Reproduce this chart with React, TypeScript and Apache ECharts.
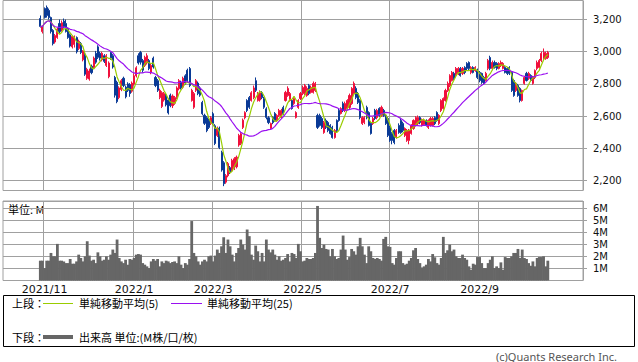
import React, { useEffect, useRef } from "react";
import * as echarts from "echarts";

// ---- calendar (trading days shown on the axis) ----
const HOLIDAYS = [
  "2021-11-03", "2021-11-23", "2021-12-31", "2022-01-03", "2022-01-10",
  "2022-02-11", "2022-02-23", "2022-03-21", "2022-04-29", "2022-05-03",
  "2022-05-04", "2022-05-05", "2022-07-18", "2022-08-11", "2022-09-19",
  "2022-09-23", "2022-10-10", "2022-11-03",
];
const AXIS_START: [number, number, number] = [2021, 10, 5];
const AXIS_END: [number, number, number] = [2022, 11, 14];
const FIRST_BAR = "2021/10/28";
const LABEL_MONTHS = [1, 3, 5, 7, 9, 11];

// ---- daily prices (yen) ----
const opens = [
  3206, 3125, 3268, 3275, 3256, 3212, 3132, 3060, 3088, 3175,
  3135, 3190, 3175, 3140, 3105, 3030, 3045, 3088, 3020, 3050,
  2950, 2985, 2835, 2830, 2910, 2900, 2990, 3030, 2990, 2950,
  2975, 2915, 2845, 2995, 2975, 2840, 2810, 2715, 2765, 2835,
  2780, 2800, 2795, 2755, 2800, 2850, 2975, 2995, 2945, 2915,
  2930, 2945, 2870, 2960, 2840, 2820, 2715, 2660, 2700, 2730,
  2700, 2730, 2665, 2680, 2715, 2770, 2810, 2780, 2850, 2885,
  2895, 2697, 2655, 2760, 2805, 2775, 2685, 2605, 2590, 2575,
  2555, 2615, 2540, 2480, 2525, 2375, 2310, 2190, 2230, 2280,
  2262, 2275, 2285, 2420, 2430, 2530, 2590, 2697, 2715, 2697,
  2715, 2820, 2697, 2700, 2745, 2710, 2645, 2590, 2523, 2592,
  2616, 2573, 2604, 2592, 2654, 2697, 2728, 2697, 2697, 2678,
  2592, 2654, 2709, 2740, 2740, 2728, 2790, 2747, 2747, 2759,
  2604, 2604, 2585, 2498, 2573, 2560, 2542, 2530, 2467, 2573,
  2635, 2616, 2678, 2635, 2647, 2654, 2678, 2740, 2772, 2740,
  2697, 2554, 2560, 2654, 2622, 2554, 2554, 2635, 2591, 2647,
  2604, 2635, 2604, 2585, 2530, 2492, 2511, 2467, 2542, 2573,
  2554, 2480, 2449, 2449, 2492, 2523, 2542, 2554, 2591, 2542,
  2548, 2573, 2530, 2542, 2542, 2591, 2622, 2554, 2635, 2647,
  2697, 2759, 2790, 2821, 2865, 2852, 2865, 2896, 2865, 2902,
  2927, 2933, 2871, 2902, 2883, 2883, 2871, 2865, 2840, 2821,
  2896, 2964, 2896, 2933, 2927, 2896, 2914, 2896, 2902, 2896,
  2902, 2871, 2821, 2759, 2790, 2772, 2697, 2803, 2865, 2834,
  2852, 2803, 2840, 2896, 2902, 2945, 2958, 2958, 2964,
];
const closes = [
  3157, 3157, 3212, 3225, 3212, 3125, 3050, 3100, 3140, 3125,
  3180, 3155, 3125, 3088, 3035, 3095, 3090, 3000, 3065, 2995,
  3005, 2860, 2890, 2880, 2870, 2960, 2935, 2965, 2960, 2990,
  2940, 2975, 2930, 2960, 2905, 2730, 2690, 2775, 2820, 2790,
  2720, 2760, 2740, 2805, 2850, 2900, 2930, 2935, 2885, 2965,
  2975, 2895, 2915, 2905, 2790, 2760, 2760, 2745, 2740, 2670,
  2620, 2665, 2725, 2715, 2775, 2820, 2775, 2835, 2805, 2820,
  2790, 2760, 2740, 2820, 2740, 2730, 2615, 2555, 2510, 2530,
  2590, 2555, 2430, 2525, 2405, 2265, 2180, 2230, 2305, 2250,
  2325, 2335, 2345, 2480, 2490, 2575, 2622, 2635, 2655, 2745,
  2775, 2760, 2740, 2745, 2715, 2655, 2592, 2560, 2554, 2560,
  2573, 2604, 2635, 2635, 2616, 2747, 2772, 2740, 2647, 2709,
  2622, 2697, 2740, 2778, 2790, 2772, 2740, 2778, 2803, 2803,
  2530, 2542, 2530, 2560, 2530, 2511, 2492, 2467, 2511, 2511,
  2573, 2647, 2635, 2678, 2697, 2728, 2772, 2803, 2716, 2685,
  2591, 2591, 2591, 2591, 2542, 2492, 2585, 2585, 2635, 2604,
  2654, 2604, 2554, 2480, 2449, 2449, 2436, 2511, 2498, 2498,
  2511, 2523, 2511, 2511, 2542, 2573, 2591, 2591, 2560, 2573,
  2573, 2542, 2573, 2585, 2585, 2554, 2573, 2604, 2697, 2709,
  2759, 2803, 2852, 2871, 2834, 2896, 2896, 2852, 2896, 2871,
  2896, 2896, 2902, 2871, 2902, 2840, 2821, 2809, 2803, 2865,
  2945, 2896, 2933, 2902, 2896, 2927, 2933, 2927, 2871, 2865,
  2865, 2759, 2728, 2803, 2728, 2697, 2759, 2840, 2821, 2865,
  2821, 2840, 2883, 2933, 2945, 2989, 2995, 2989, 2995,
];
const lows = [
  3150, 3113, 3206, 3212, 3200, 3113, 3039, 3050, 3080, 3113,
  3125, 3144, 3119, 3080, 3026, 3020, 3026, 2989, 3010, 2985,
  2940, 2850, 2825, 2820, 2860, 2895, 2925, 2955, 2945, 2940,
  2930, 2905, 2835, 2950, 2895, 2715, 2680, 2705, 2755, 2780,
  2710, 2750, 2720, 2745, 2790, 2840, 2920, 2920, 2870, 2905,
  2920, 2885, 2860, 2895, 2780, 2750, 2705, 2650, 2690, 2660,
  2610, 2655, 2650, 2670, 2705, 2760, 2765, 2770, 2795, 2810,
  2780, 2690, 2645, 2750, 2730, 2720, 2605, 2545, 2500, 2520,
  2545, 2545, 2420, 2470, 2395, 2255, 2165, 2180, 2220, 2240,
  2255, 2265, 2275, 2410, 2420, 2520, 2580, 2625, 2645, 2690,
  2705, 2750, 2690, 2690, 2705, 2645, 2580, 2550, 2515, 2550,
  2565, 2565, 2595, 2585, 2605, 2690, 2720, 2690, 2640, 2670,
  2585, 2645, 2700, 2730, 2730, 2720, 2730, 2740, 2740, 2750,
  2520, 2535, 2520, 2490, 2520, 2500, 2485, 2460, 2460, 2500,
  2565, 2610, 2625, 2625, 2640, 2645, 2670, 2735, 2705, 2675,
  2580, 2545, 2550, 2580, 2535, 2485, 2545, 2575, 2580, 2595,
  2595, 2595, 2545, 2470, 2440, 2425, 2425, 2460, 2490, 2490,
  2500, 2470, 2440, 2425, 2485, 2515, 2535, 2545, 2550, 2535,
  2540, 2535, 2520, 2535, 2535, 2545, 2565, 2545, 2625, 2640,
  2690, 2750, 2780, 2815, 2825, 2845, 2855, 2845, 2855, 2860,
  2885, 2885, 2860, 2865, 2875, 2830, 2810, 2800, 2795, 2815,
  2885, 2885, 2885, 2895, 2885, 2890, 2905, 2890, 2865, 2855,
  2855, 2750, 2720, 2750, 2720, 2685, 2690, 2795, 2815, 2825,
  2815, 2795, 2830, 2885, 2895, 2935, 2950, 2950, 2955,
];
const highs = [
  3225, 3163, 3275, 3287, 3268, 3218, 3140, 3110, 3150, 3200,
  3194, 3206, 3200, 3150, 3113, 3101, 3101, 3095, 3075, 3060,
  3010, 2995, 2900, 2895, 2920, 2970, 3005, 3040, 3000, 3000,
  2985, 2985, 2940, 3000, 2985, 2850, 2820, 2785, 2830, 2845,
  2790, 2810, 2805, 2815, 2865, 2910, 2990, 3005, 2955, 2975,
  2990, 2955, 2925, 2970, 2850, 2830, 2770, 2755, 2750, 2740,
  2710, 2740, 2735, 2725, 2785, 2830, 2820, 2845, 2860, 2895,
  2905, 2770, 2750, 2830, 2815, 2785, 2695, 2615, 2600, 2585,
  2600, 2625, 2550, 2535, 2535, 2385, 2320, 2240, 2315, 2290,
  2335, 2345, 2355, 2490, 2500, 2585, 2630, 2705, 2725, 2755,
  2790, 2840, 2750, 2760, 2755, 2720, 2655, 2600, 2560, 2600,
  2625, 2612, 2645, 2645, 2665, 2757, 2785, 2750, 2705, 2720,
  2630, 2705, 2750, 2790, 2800, 2785, 2800, 2790, 2815, 2812,
  2615, 2615, 2595, 2570, 2585, 2570, 2550, 2540, 2520, 2580,
  2645, 2655, 2690, 2690, 2705, 2740, 2780, 2815, 2785, 2750,
  2705, 2600, 2600, 2665, 2630, 2565, 2595, 2645, 2645, 2655,
  2665, 2645, 2612, 2595, 2540, 2500, 2520, 2520, 2555, 2590,
  2565, 2530, 2520, 2520, 2550, 2580, 2600, 2604, 2600, 2585,
  2585, 2580, 2580, 2595, 2595, 2600, 2630, 2612, 2705, 2716,
  2770, 2815, 2860, 2880, 2875, 2905, 2905, 2905, 2905, 2910,
  2935, 2940, 2910, 2910, 2910, 2895, 2880, 2870, 2850, 2875,
  2955, 2975, 2945, 2945, 2935, 2935, 2945, 2935, 2910, 2905,
  2910, 2880, 2830, 2812, 2800, 2780, 2765, 2850, 2875, 2875,
  2860, 2850, 2890, 2945, 2955, 3000, 3020, 3000, 3005,
];
// ---- daily volume (million shares) ----
const volumes = [
  1.64, 1.64, 1.03, 1.64, 1.64, 2.28, 2.0, 2.0, 3.03, 1.64,
  1.64, 1.58, 1.44, 1.44, 1.78, 1.39, 1.39, 1.58, 2.14, 1.86,
  1.58, 2.0, 3.25, 2.06, 1.64, 1.72, 1.44, 2.33, 2.0, 1.64,
  1.72, 2.0, 1.72, 2.14, 2.56, 2.28, 3.39, 1.86, 1.58, 1.44,
  1.72, 1.31, 1.78, 1.72, 1.86, 2.14, 2.19, 2.14, 1.44, 1.31,
  1.17, 1.03, 1.58, 1.78, 1.64, 1.78, 1.17, 1.58, 1.44, 1.64,
  1.58, 1.44, 1.53, 1.58, 1.44, 2.0, 1.31, 1.03, 1.44, 1.31,
  1.78, 4.92, 2.28, 2.0, 1.58, 1.31, 1.58, 1.72, 1.58, 2.0,
  2.06, 1.58, 2.06, 2.56, 2.28, 2.83, 3.58, 2.28, 3.39, 2.83,
  2.14, 1.58, 2.28, 2.69, 3.39, 2.97, 2.56, 4.22, 3.67, 2.14,
  1.72, 2.89, 2.42, 1.58, 2.28, 1.58, 3.39, 2.56, 2.33, 2.56,
  2.14, 1.72, 2.0, 1.64, 1.72, 1.86, 2.19, 1.58, 2.28, 2.19,
  1.86, 3.03, 2.42, 1.58, 1.64, 1.86, 1.78, 1.78, 1.86, 2.28,
  6.17, 3.53, 2.69, 2.97, 2.61, 2.56, 2.0, 2.61, 2.0, 1.78,
  1.86, 2.56, 3.72, 2.56, 1.72, 1.94, 2.61, 2.42, 2.14, 2.83,
  3.53, 2.83, 2.14, 1.44, 2.83, 2.42, 1.86, 1.78, 1.86, 1.78,
  1.64, 3.44, 3.61, 2.83, 2.78, 1.44, 1.31, 1.86, 2.42, 2.42,
  1.44, 1.31, 1.39, 1.64, 1.86, 2.5, 2.69, 1.78, 1.44, 1.08,
  1.17, 1.31, 1.78, 1.58, 2.19, 1.92, 1.44, 1.31, 1.86, 3.61,
  2.28, 2.5, 2.97, 2.42, 2.56, 2.0, 1.86, 1.86, 2.14, 1.86,
  1.72, 1.17, 0.89, 1.39, 1.31, 1.94, 1.94, 1.44, 1.03, 1.03,
  1.44, 1.72, 2.0, 1.03, 1.17, 1.03, 1.5, 0.89, 1.94, 1.86,
  1.86, 2.0, 2.28, 2.28, 2.61, 1.86, 2.56, 1.86, 1.78, 1.44,
  1.22, 1.58, 1.17, 1.86, 1.94, 1.94, 2.0, 1.17, 1.64,
];
const MA_SHORT = 5;
const MA_LONG = 25;
const PRICE_RANGE = [2138, 3318];
const VOLUME_RANGE = [0, 6.58];

const UP = "#f0103c";
const DOWN = "#0a3a96";
const MA5_COLOR = "#99cc00";
const MA25_COLOR = "#9a10f0";
const VOL_COLOR = "#666666";
const GRID_COLOR = "#a0a0a0";
const CJK = '"Noto Sans CJK JP", "Noto Sans", sans-serif';
const LATIN = '"DejaVu Sans", sans-serif';

function buildCategories(): string[] {
  const out: string[] = [];
  const d = new Date(Date.UTC(AXIS_START[0], AXIS_START[1] - 1, AXIS_START[2]));
  const end = Date.UTC(AXIS_END[0], AXIS_END[1] - 1, AXIS_END[2]);
  while (d.getTime() <= end) {
    const dow = d.getUTCDay();
    const iso = d.toISOString().slice(0, 10);
    if (dow !== 0 && dow !== 6 && !HOLIDAYS.includes(iso)) {
      out.push(`${d.getUTCFullYear()}/${d.getUTCMonth() + 1}/${d.getUTCDate()}`);
    }
    d.setUTCDate(d.getUTCDate() + 1);
  }
  return out;
}

function movingAverage(values: number[], n: number): number[] {
  return values.map((_, i) => {
    const s = Math.max(0, i - n + 1);
    let sum = 0;
    for (let k = s; k <= i; k++) sum += values[k];
    return Math.round((sum / (i - s + 1)) * 10) / 10;
  });
}

function buildOption() {
  const cats = buildCategories();
  const start = cats.indexOf(FIRST_BAR);
  const end = start + closes.length;
  const labelSet = new Set<number>();
  cats.forEach((c, i) => {
    if (i === 0 || i >= end) return;
    const m = Number(c.split("/")[1]);
    const pm = Number(cats[i - 1].split("/")[1]);
    if (m !== pm && LABEL_MONTHS.includes(m)) labelSet.add(i);
  });
  const pad = <T,>(arr: T[], empty: any) =>
    cats.map((_, i) => {
      const k = i - start;
      return k >= 0 && k < arr.length ? arr[k] : empty;
    });
  const candle = opens.map((o, i) => [o, closes[i], lows[i], highs[i]]);
  const ma5 = movingAverage(closes, MA_SHORT);
  const ma25 = movingAverage(closes, MA_LONG);
  const isLabel = (i: number) => labelSet.has(i);

  const xBase = {
    type: "category",
    data: cats,
    boundaryGap: true,
    axisLine: { show: false },
    axisTick: { show: false },
    splitLine: { show: true, interval: isLabel, lineStyle: { color: GRID_COLOR, width: 1 } },
  };
  const yBase = {
    type: "value",
    position: "right",
    axisLine: { show: false },
    axisTick: { show: true, length: 4, lineStyle: { color: GRID_COLOR } },
    splitLine: { show: true, lineStyle: { color: GRID_COLOR, width: 1 } },
  };

  return {
    animation: false,
    backgroundColor: "#ffffff",
    grid: [
      { left: 3, top: 0.5, width: 580, height: 190, show: true, borderColor: GRID_COLOR, borderWidth: 1, outerBoundsMode: "none", containLabel: false },
      { left: 3, top: 201, width: 580, height: 79.5, show: true, borderColor: GRID_COLOR, borderWidth: 1, outerBoundsMode: "none", containLabel: false },
    ],
    xAxis: [
      { ...xBase, gridIndex: 0, axisLabel: { show: false } },
      {
        ...xBase,
        gridIndex: 1,
        axisLabel: {
          show: true,
          interval: isLabel,
          margin: 3,
          fontSize: 11,
          fontFamily: LATIN,
          color: "#111",
          formatter: (v: string) => v.split("/").slice(0, 2).join("/"),
        },
      },
    ],
    yAxis: [
      {
        ...yBase,
        gridIndex: 0,
        min: PRICE_RANGE[0],
        max: PRICE_RANGE[1],
        splitNumber: 5,
        axisLabel: {
          margin: 10,
          fontSize: 10,
          fontFamily: LATIN,
          color: "#111",
          showMinLabel: false,
          showMaxLabel: false,
          formatter: (v: number) => v.toLocaleString("en-US"),
        },
      },
      {
        ...yBase,
        gridIndex: 1,
        min: VOLUME_RANGE[0],
        max: VOLUME_RANGE[1],
        interval: 1,
        axisLabel: {
          margin: 10,
          fontSize: 10,
          fontFamily: LATIN,
          color: "#111",
          showMinLabel: false,
          showMaxLabel: false,
          formatter: (v: number) => `${v}M`,
        },
      },
    ],
    series: [
      {
        type: "candlestick",
        xAxisIndex: 0,
        yAxisIndex: 0,
        barWidth: 1.6,
        data: pad(candle, ["-", "-", "-", "-"]),
        itemStyle: { color: UP, color0: DOWN, borderColor: UP, borderColor0: DOWN, borderWidth: 1 },
      },
      {
        type: "line",
        xAxisIndex: 0,
        yAxisIndex: 0,
        data: pad(ma5, "-"),
        symbol: "none",
        showSymbol: false,
        lineStyle: { color: MA5_COLOR, width: 1.2 },
        z: 3,
      },
      {
        type: "line",
        xAxisIndex: 0,
        yAxisIndex: 0,
        data: pad(ma25, "-"),
        symbol: "none",
        showSymbol: false,
        lineStyle: { color: MA25_COLOR, width: 1.2 },
        z: 3,
      },
      {
        type: "bar",
        xAxisIndex: 1,
        yAxisIndex: 1,
        data: pad(volumes, "-"),
        barWidth: 2.8,
        barGap: "-100%",
        itemStyle: { color: VOL_COLOR },
      },
    ],
    graphic: [
      { type: "rect", shape: { x: 3.5, y: 295.5, width: 631, height: 51 }, style: { fill: "none", stroke: "#000", lineWidth: 1 } },
      { type: "text", x: 12, y: 303, style: { text: "上段：", fontSize: 11, fontFamily: CJK, fill: "#000", verticalAlign: "middle" } },
      { type: "line", shape: { x1: 43, y1: 303.5, x2: 73, y2: 303.5 }, style: { stroke: MA5_COLOR, lineWidth: 1 } },
      { type: "text", x: 79, y: 303, style: { text: "単純移動平均(5)", fontSize: 11, fontFamily: CJK, fill: "#000", verticalAlign: "middle" } },
      { type: "line", shape: { x1: 171, y1: 303.5, x2: 202, y2: 303.5 }, style: { stroke: MA25_COLOR, lineWidth: 1 } },
      { type: "text", x: 207, y: 303, style: { text: "単純移動平均(25)", fontSize: 11, fontFamily: CJK, fill: "#000", verticalAlign: "middle" } },
      { type: "text", x: 12, y: 337, style: { text: "下段：", fontSize: 11, fontFamily: CJK, fill: "#000", verticalAlign: "middle" } },
      { type: "line", shape: { x1: 43, y1: 337, x2: 73, y2: 337 }, style: { stroke: VOL_COLOR, lineWidth: 4 } },
      { type: "text", x: 79, y: 337, style: { text: "出来高 単位:(M株/口/枚)", fontSize: 11, fontFamily: CJK, fill: "#000", verticalAlign: "middle" } },
      { type: "text", x: 8, y: 209, style: { text: "単位: M", fontSize: 11, fontFamily: CJK, fill: "#000", verticalAlign: "middle" } },
      { type: "text", x: 617, y: 356, style: { text: "(c)Quants Research Inc.", fontSize: 11, fontFamily: '"Noto Sans", sans-serif', fill: "#555", align: "right", verticalAlign: "middle" } },
    ],
  };
}

export default function App() {
  const ref = useRef<HTMLDivElement>(null);
  useEffect(() => {
    document.body.style.margin = "0";
    if (!ref.current) return;
    const chart = echarts.init(ref.current, undefined, { renderer: "svg", width: 638, height: 362 });
    chart.setOption(buildOption() as any);
    return () => chart.dispose();
  }, []);
  return (
    <div
      ref={ref}
      style={{ position: "absolute", left: 0, top: 0, width: 638, height: 362, background: "#fff" }}
    />
  );
}
